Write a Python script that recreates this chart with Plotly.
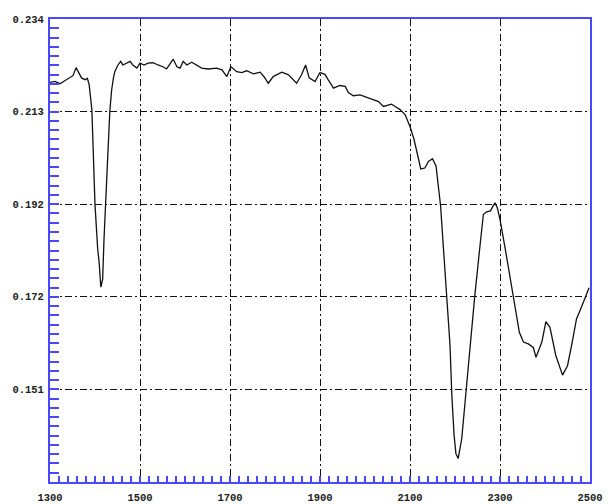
import numpy as np
import plotly.graph_objects as go

# Spectrum: wavenumber vs. absorbance-like reading
wavenumber = [
    1300, 1311, 1322, 1333, 1344, 1351, 1358, 1362, 1370, 1378, 1383, 1387, 1390, 1393,
    1396, 1400, 1406, 1409, 1413, 1417, 1420, 1424, 1428, 1433, 1437, 1441, 1444, 1451,
    1457, 1462, 1470, 1478, 1484, 1493, 1500, 1509, 1518, 1529, 1540, 1551, 1559, 1567,
    1574, 1582, 1589, 1596, 1604, 1615, 1626, 1637, 1652, 1670, 1682, 1693, 1702, 1715,
    1726, 1737, 1752, 1767, 1776, 1785, 1796, 1815, 1830, 1848, 1859, 1868, 1876, 1889,
    1900, 1911, 1918, 1930, 1944, 1956, 1963, 1974, 1989, 2007, 2030, 2041, 2059, 2067,
    2078, 2089, 2100, 2109, 2116, 2124, 2133, 2141, 2150, 2158, 2163, 2168, 2174, 2182,
    2189, 2193, 2198, 2202, 2207, 2215, 2224, 2233, 2244, 2254, 2263, 2270, 2279, 2284,
    2289, 2294, 2300, 2313, 2324, 2333, 2343, 2352, 2363, 2374, 2380, 2393, 2402, 2411,
    2424, 2439, 2450, 2459, 2470, 2482, 2493, 2498,
]
reading = [
    0.2198, 0.2200, 0.2195, 0.2202, 0.2208, 0.2213, 0.2231, 0.2222, 0.2208, 0.2204, 0.2207, 0.2193, 0.2166, 0.2137,
    0.2047, 0.1924, 0.1824, 0.1797, 0.1739, 0.1757, 0.1846, 0.1924, 0.2025, 0.2134, 0.2181, 0.2208, 0.2222, 0.2237,
    0.2245, 0.2237, 0.2241, 0.2245, 0.2237, 0.2230, 0.2241, 0.2237, 0.2241, 0.2242, 0.2237, 0.2233, 0.2228, 0.2241,
    0.2250, 0.2233, 0.2230, 0.2245, 0.2237, 0.2243, 0.2237, 0.2230, 0.2228, 0.2230, 0.2226, 0.2211, 0.2233, 0.2222,
    0.2220, 0.2224, 0.2217, 0.2221, 0.2210, 0.2196, 0.2211, 0.2221, 0.2215, 0.2196, 0.2215, 0.2237, 0.2208, 0.2200,
    0.2220, 0.2216, 0.2204, 0.2185, 0.2191, 0.2189, 0.2175, 0.2168, 0.2170, 0.2164, 0.2155, 0.2144, 0.2149, 0.2144,
    0.2137, 0.2126, 0.2099, 0.2070, 0.2036, 0.2004, 0.2006, 0.2021, 0.2027, 0.2010, 0.1965, 0.1921, 0.1831, 0.1720,
    0.1608, 0.1496, 0.1407, 0.1366, 0.1355, 0.1400, 0.1504, 0.1608, 0.1720, 0.1817, 0.1902, 0.1908, 0.1910, 0.1920,
    0.1928, 0.1917, 0.1891, 0.1817, 0.1750, 0.1697, 0.1638, 0.1616, 0.1612, 0.1604, 0.1582, 0.1616, 0.1662, 0.1649,
    0.1586, 0.1542, 0.1563, 0.1608, 0.1668, 0.1697, 0.1727, 0.1738,
]

x_ticks = [1300, 1500, 1700, 1900, 2100, 2300, 2500]
y_ticks = [0.151, 0.17175, 0.1925, 0.21325, 0.234]
y_tick_text = ["0.151", "0.172", "0.192", "0.213", "0.234"]

y_step = y_ticks[1] - y_ticks[0]
y_range = [y_ticks[0] - y_step, y_ticks[-1]]

AXIS_BLUE = "#4848ff"
label_font = dict(family="Liberation Mono", size=10.5, color="#222222", weight="bold")

fig = go.Figure(
    go.Scatter(
        x=wavenumber,
        y=reading,
        mode="lines",
        line=dict(color="#111111", width=1.3),
        showlegend=False,
    )
)

common = dict(
    automargin=False,
    showline=True,
    linecolor=AXIS_BLUE,
    linewidth=2,
    mirror=True,
    showgrid=True,
    gridcolor="#111111",
    gridwidth=1,
    griddash="7px,3px,2px,3px",
    zeroline=False,
    ticks="inside",
    tickcolor=AXIS_BLUE,
    tickwidth=1.5,
    tickfont=label_font,
)

fig.update_xaxes(
    range=[x_ticks[0], x_ticks[-1]],
    tickmode="array",
    tickvals=x_ticks,
    ticklen=6,
    ticklabelstandoff=4,
    minor=dict(ticks="inside", ticklen=6, tickcolor=AXIS_BLUE, tickwidth=1.5,
               tick0=x_ticks[0], dtick=20, showgrid=False),
    **common,
)
fig.update_yaxes(
    range=y_range,
    tickmode="array",
    tickvals=y_ticks,
    ticktext=y_tick_text,
    ticklen=9,
    ticklabelstandoff=2,
    minor=dict(ticks="inside", ticklen=9, tickcolor=AXIS_BLUE, tickwidth=1.5,
               tickmode="array",
               tickvals=list(np.linspace(y_range[0], y_range[1], 51)),
               showgrid=False),
    **common,
)

fig.update_layout(
    width=608,
    height=504,
    margin=dict(l=50, r=18, t=19, b=22),
    paper_bgcolor="white",
    plot_bgcolor="white",
)

fig.write_html("out.html")
